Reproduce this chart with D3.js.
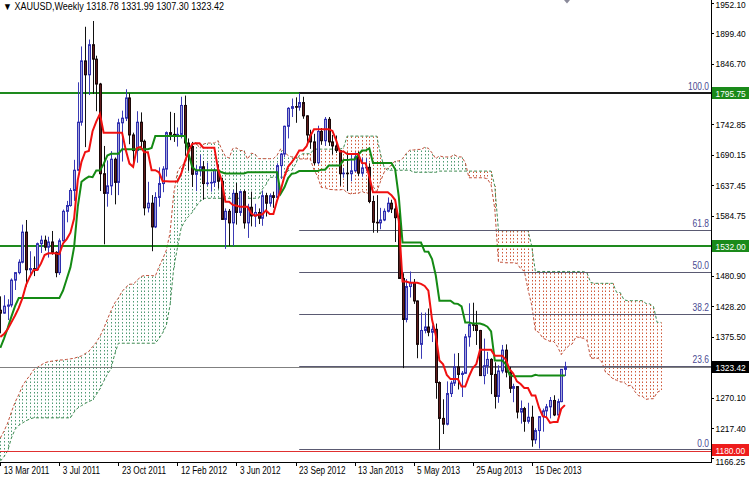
<!DOCTYPE html>
<html><head><meta charset="utf-8">
<script src="https://cdn.jsdelivr.net/npm/d3@7"></script>
<style>
body{margin:0;background:#fff}
svg{display:block}
text{font-family:"Liberation Sans",Arial,sans-serif}
</style>
</head><body>
<svg id="c" width="749" height="477"></svg>
<script>
// ---------------- DATA ----------------
const symbolTitle = "\u25BC XAUUSD,Weekly  1318.78 1331.99 1307.30 1323.42";

const open = [1421,1416,1428,1430,1473,1486,1504,1556,1491,1493, 1491,1536,1542,1530,1539,1521,1486,1541,1592,1602,
 1628,1663,1746,1852,1828,1880,1855,1812,1657,1623, 1636,1682,1642,1745,1753,1788,1724,1697,1746,1713,
 1598,1606,1565,1616,1640,1665,1728,1725,1722,1725, 1775,1710,1704,1656,1662,1669,1640,1641,1642,1663,
 1644,1578,1592,1572,1623,1590,1626,1572,1599,1584, 1590,1580,1619,1606,1619,1616,1671,1691,1739,1770,
 1773,1772,1780,1757,1724,1712,1676,1730,1714,1751, 1712,1705,1697,1657,1658,1657,1662,1686,1658,1667,
 1668,1609,1573,1572,1577,1592,1606,1596,1581,1476, 1405,1462,1469,1437,1362,1386,1392,1383,1388,1296,
 1234,1224,1277,1295,1323,1310,1312,1375,1396,1395, 1386,1308,1325,1336,1310,1272,1316,1352,1314,1286,
 1289,1245,1251,1229,1236,1197,1213,1237,1247,1254, 1265,1240,1263,1318.78];
const high = [1445,1447,1440,1476,1487,1509,1569,1577,1523,1514, 1538,1550,1550,1548,1558,1523,1545,1595,1610,1632,
 1681,1815,1877,1911,1889,1921,1861,1814,1705,1680, 1696,1685,1752,1766,1803,1796,1728,1765,1763,1716,
 1643,1620,1625,1668,1670,1730,1764,1762,1737,1790, 1792,1718,1712,1672,1690,1679,1676,1659,1667,1673,
 1650,1597,1596,1629,1641,1628,1629,1605,1626,1605, 1597,1628,1624,1623,1626,1675,1693,1740,1772,1787,
 1789,1796,1790,1758,1733,1726,1740,1736,1755,1755, 1724,1723,1698,1667,1694,1691,1694,1695,1685,1684,
 1675,1619,1620,1598,1597,1616,1612,1605,1589,1485, 1475,1488,1475,1438,1417,1417,1424,1395,1398,1298,
 1267,1298,1299,1346,1347,1316,1380,1433,1434,1420, 1387,1372,1349,1338,1331,1326,1361,1362,1323,1294,
 1290,1265,1254,1261,1256,1217,1238,1251,1259,1271, 1274,1268,1319,1331.99];
const low = [1381,1415,1404,1426,1456,1483,1502,1462,1478,1480, 1491,1520,1524,1512,1517,1478,1482,1540,1573,1600,
 1610,1662,1740,1703,1793,1795,1765,1627,1535,1600, 1620,1604,1620,1678,1748,1708,1670,1676,1702,1585,
 1590,1523,1563,1600,1625,1652,1715,1712,1704,1718, 1688,1662,1634,1627,1653,1612,1636,1626,1634,1631,
 1577,1527,1532,1532,1569,1584,1562,1546,1566,1565, 1570,1567,1583,1600,1598,1613,1648,1686,1718,1755,
 1745,1766,1752,1712,1700,1672,1673,1707,1705,1705, 1690,1693,1636,1650,1627,1644,1660,1653,1652,1662,
 1606,1555,1555,1561,1575,1590,1589,1539,1475,1321, 1400,1443,1432,1338,1337,1381,1376,1366,1268,1180,
 1207,1222,1271,1290,1284,1271,1311,1358,1385,1361, 1308,1293,1311,1276,1251,1261,1312,1305,1278,1262,
 1234,1225,1211,1225,1185,1190,1182,1211,1236,1234, 1238,1239,1262,1307.30];
const close = [1416,1428,1430,1473,1486,1504,1556,1491,1493,1491, 1536,1542,1530,1539,1521,1486,1541,1592,1602,1628,
 1663,1746,1852,1828,1880,1855,1812,1657,1623,1636, 1682,1642,1745,1753,1788,1724,1697,1746,1713,1598,
 1606,1565,1616,1640,1665,1728,1725,1722,1725,1775, 1710,1704,1656,1662,1669,1640,1641,1642,1663,1644,
 1578,1592,1572,1623,1590,1626,1572,1599,1584,1590, 1580,1619,1606,1619,1616,1671,1691,1739,1770,1773,
 1772,1780,1757,1724,1712,1676,1730,1714,1751,1712, 1705,1697,1657,1658,1657,1662,1686,1658,1667,1668,
 1609,1573,1572,1577,1592,1606,1596,1581,1476,1405, 1462,1469,1437,1362,1386,1392,1383,1388,1296,1234,
 1224,1277,1295,1323,1310,1312,1375,1396,1395,1386, 1308,1325,1336,1310,1272,1316,1352,1314,1286,1289,
 1245,1251,1229,1236,1197,1213,1237,1247,1254,1265, 1240,1263,1318.78,1323.42];

// Ichimoku lines (values per weekly bar)
const tenkan = [1375,1380,1388,1400,1412,1425,1442,1465,1479,1490.5, 1490.5,1501.5,1516.5,1519.5,1519.5,1519.5,1518,1536.5,1544,1555,
 1579.5,1646.5,1677.5,1694.5,1696.5,1730.5,1747,1760.5,1728,1728, 1728,1728,1728,1728,1698,1674.5,1669,1701.5,1703.5,1694,
 1694,1663,1663,1659.5,1644,1644,1643.5,1643.5,1643.5,1656.5, 1677.5,1696,1708.5,1709.5,1709.5,1702,1702,1702,1702,1665,
 1644.5,1608.5,1608.5,1603,1601.5,1600,1600,1600,1588.5,1584, 1586.5,1586.5,1593.5,1587.5,1587.5,1610.5,1629,1652.5,1669.5,1677,
 1686,1697,1697,1704.5,1722,1734,1734,1734,1734,1734, 1731,1715,1695.5,1695.5,1691,1691,1691,1691,1675.5,1675,
 1652,1625,1625,1625,1625,1625,1620,1611.5,1575,1470.5, 1470.5,1468.5,1468.5,1468.5,1466.5,1463,1455,1404.5,1378,1334,
 1327.5,1309,1302,1302,1302,1289,1289,1306.5,1320.5,1328, 1352.5,1352.5,1352.5,1352.5,1342.5,1342.5,1342.5,1335.5,1319,1311.5,
 1298,1293.5,1286.5,1286.5,1273.5,1273.5,1252.5,1238,1236,1226.5, 1228,1228,1250.5,1257];
const kijun = [1356,1372,1390,1410,1428,1442,1442,1442,1442,1442, 1442,1442,1442,1442,1442,1442,1442,1455,1475,1495,
 1530,1600,1643,1648,1652,1651,1662.5,1662.5,1673.5,1688.5, 1691.5,1691.5,1691.5,1699.5,1699.5,1699.5,1699.5,1699.5,1699.5,1699.5,
 1699.5,1701.5,1722,1722,1722,1722,1722,1722,1722,1722, 1722,1692,1668.5,1663,1663,1663,1663,1663,1663,1663,
 1659.5,1657.5,1657.5,1657.5,1657.5,1657.5,1657.5,1659.5,1659.5,1659.5, 1659.5,1659.5,1659.5,1659.5,1659.5,1659.5,1622.5,1633.5,1649.5,1657,
 1658,1661.5,1661.5,1661.5,1661.5,1661.5,1661.5,1664,1664,1671, 1671,1671,1671,1680.5,1680.5,1681.5,1681.5,1689.5,1697,1697,
 1701,1675.5,1675.5,1675.5,1675.5,1675.5,1675.5,1664.5,1616.5,1538, 1538,1538,1538,1538,1538,1522.5,1522,1509.5,1481.5,1437.5,
 1437.5,1437.5,1437.5,1432.5,1432,1427.5,1400,1400,1398,1398, 1398,1396,1392.5,1384.5,1334,1334,1334,1327.5,1309,1307,
 1307,1307,1307,1307,1307,1309.5,1308,1308,1308,1308, 1308,1308,1308,1308];
const spanA = [1200,1212,1226,1245,1262,1275,1290,1300,1308,1318, 1322,1326,1330,1332,1333,1334,1335,1335,1336,1337,
 1338,1340,1342,1346,1350,1358,1365.5,1376,1389,1405, 1420,1433.5,1442,1453.5,1460.5,1466,1466,1472,1479,1481,
 1481,1481,1480,1496,1509.5,1525,1555,1623,1660,1671, 1674,1691,1705,1711.5,1701,1708,1710,1710,1710,1714,
 1699,1687,1684,1700.5,1701.5,1697,1697,1682,1692.5,1691, 1683,1683,1683,1683,1683,1689,1700,1694,1688.5,1686,
 1686,1682.5,1682.5,1682.5,1682.5,1664,1652,1633,1633,1630, 1629.5,1629,1629,1630,1624,1622,1623,1623,1626.5,1623.5,
 1623.5,1635,1626,1643,1659.5,1667,1672,1679,1679,1683, 1692,1698,1698,1699,1699,1702.5,1701,1693,1683,1688,
 1686,1686,1686,1690,1686,1686,1676.5,1650,1650,1650, 1650,1650,1648,1638,1596,1504,1504,1503,1503,1503,
 1502,1493,1488.5,1457,1430,1386,1382.5,1373,1370,1367, 1367,1358,1344.5,1353,1359,1363,1375,1374,1372.5,1368.5,
 1338,1338,1338,1331.5,1314,1309,1302.5,1300,1297,1297, 1290,1291.5,1280,1273,1272,1267,1268,1268,1279,1282.5];
const spanB = [1160,1168,1178,1200,1215,1222,1226,1230,1233,1235, 1235,1235,1235,1235,1235,1235,1235,1235,1235,1235,
 1245,1252,1256,1260,1263,1266,1275,1285,1298,1310, 1320,1345,1364,1364,1364,1364,1364,1364,1364,1364,
 1364,1364,1364,1372,1382,1395,1430,1494,1529,1563, 1575,1583,1590,1600,1608,1614.5,1614.5,1614.5,1614.5,1614.5,
 1614.5,1614.5,1614.5,1614.5,1614.5,1614.5,1614.5,1614.5,1614.5,1614.5, 1614.5,1630.5,1638,1650.5,1651,1651,1651,1651,1662.5,1662.5,
 1673.5,1688.5,1691.5,1691.5,1691.5,1699.5,1699.5,1699.5,1699.5,1699.5, 1699.5,1699.5,1699.5,1701.5,1722,1722,1722,1722,1722,1722,
 1722,1722,1722,1692,1668.5,1663,1663,1663,1663,1663, 1663,1663,1659.5,1659.5,1659.5,1659.5,1659.5,1659.5,1659.5,1661.5,
 1661.5,1661.5,1661.5,1661.5,1661.5,1661.5,1661.5,1661.5,1661.5,1661.5, 1661.5,1661.5,1661.5,1661.5,1635.5,1558.5,1558.5,1558.5,1558.5,1558.5,
 1558.5,1558.5,1558.5,1558.5,1532,1488,1488,1488,1488,1488, 1488,1488,1488,1488,1488,1488,1488,1488,1488,1485,
 1469,1467.5,1467.5,1467.5,1467.5,1467.5,1467.5,1452,1451.5,1439, 1437.5,1437.5,1437.5,1437.5,1437.5,1432.5,1432,1427.5,1400,1400];

// Horizontal levels
const levelPrices = [1795.75, 1532.00];
const supportPrice = 1180.00;
const currentPrice = 1323.42;
const fibStartBar = 81;
const fibPrices = [1795.75, 1560.48, 1487.88, 1415.28, 1325.32, 1180.00];
const fibLabels = ["100.0", "61.8", "50.0", "38.2", "23.6", "0.0"];

// Axis labels
const priceTicks = [1952.10, 1899.40, 1846.70, 1742.85, 1690.15, 1637.45, 1584.75, 1480.90, 1428.20, 1375.50, 1270.10, 1217.40, 1166.25];
const dateLabels = ["13 Mar 2011","3 Jul 2011","23 Oct 2011","12 Feb 2012","3 Jun 2012","23 Sep 2012","13 Jan 2013","5 May 2013","25 Aug 2013","15 Dec 2013"];
const dateLabelBars = [0,16,32,48,64,80,96,112,128,144];

// ---------------- DRAW ----------------
const W = 749, H = 477, plotR = 711, plotB = 462;
const svg = d3.select("#c");
const x = d3.scaleLinear().domain([0, 153]).range([0.3, 564.9]);
const y = d3.scaleLinear().domain([1952.10, 1166.25]).range([3, 457.6]);
const px = i => Math.round(x(i)) + 0.5;
const crisp = v => Math.round(v) + 0.5;
// condense text horizontally (Tahoma-like narrow look)
function squeeze(sel, f) {
  sel.each(function() {
    const L = this.getComputedTextLength();
    d3.select(this).attr("textLength", (L * f).toFixed(1)).attr("lengthAdjust", "spacingAndGlyphs");
  });
}

svg.append("defs").append("clipPath").attr("id","clip")
  .append("rect").attr("x",0).attr("y",0).attr("width",plotR).attr("height",plotB);
const g = svg.append("g").attr("clip-path","url(#clip)");

// cloud (dotted vertical hatching)
const cloudIdx = d3.range(spanA.length);
g.append("g").selectAll("line").data(cloudIdx).join("line")
  .attr("x1", i => px(i)).attr("x2", i => px(i))
  .attr("y1", i => Math.min(y(spanA[i]), y(spanB[i])))
  .attr("y2", i => Math.max(y(spanA[i]), y(spanB[i])))
  .attr("stroke", i => spanA[i] >= spanB[i] ? "#4e9a72" : "#cf5a3a")
  .attr("stroke-width", 1)
  .attr("stroke-dasharray", "1.5,2")
  .attr("stroke-dashoffset", i => (Math.min(y(spanA[i]), y(spanB[i])) % 3.5));

const lineGen = arr => d3.line().x((d,i) => x(i)).y(d => y(d))(arr);
g.append("path").attr("d", lineGen(spanA)).attr("fill","none")
  .attr("stroke","#c0503a").attr("stroke-width",1).attr("stroke-dasharray","3,2");
g.append("path").attr("d", lineGen(spanB)).attr("fill","none")
  .attr("stroke","#3d8a50").attr("stroke-width",1).attr("stroke-dasharray","3,2");

// horizontal lines
g.append("line").attr("x1",0).attr("x2",plotR)
  .attr("y1", crisp(y(currentPrice))).attr("y2", crisp(y(currentPrice)))
  .attr("stroke","#808080").attr("stroke-width",1);
g.append("line").attr("x1",0).attr("x2",plotR)
  .attr("y1", crisp(y(supportPrice))+1).attr("y2", crisp(y(supportPrice))+1)
  .attr("stroke","#e03030").attr("stroke-width",1);
g.selectAll("line.lvl").data(levelPrices).join("line").attr("class","lvl")
  .attr("x1",0).attr("x2",plotR)
  .attr("y1", d => Math.round(y(d))).attr("y2", d => Math.round(y(d)))
  .attr("stroke","#1e8a1e").attr("stroke-width",2);
// fibonacci
g.selectAll("line.fib").data(fibPrices).join("line").attr("class","fib")
  .attr("x1", x(fibStartBar)).attr("x2", plotR)
  .attr("y1", (d,i) => i === 0 ? Math.round(y(d)) : crisp(y(d)) - (i===5?1:0))
  .attr("y2", (d,i) => i === 0 ? Math.round(y(d)) : crisp(y(d)) - (i===5?1:0))
  .attr("stroke", (d,i) => i === 0 ? "#1a1a1a" : "#5a5a72")
  .attr("stroke-width", (d,i) => i === 0 ? 2 : 1);

// candles
const idx = d3.range(open.length);
const cg = g.append("g");
cg.selectAll("line").data(idx).join("line")
  .attr("x1", i => px(i)).attr("x2", i => px(i))
  .attr("y1", i => y(high[i])).attr("y2", i => y(low[i]))
  .attr("stroke", i => close[i] >= open[i] ? "#3b3bb5" : "#111")
  .attr("stroke-width", 1);
cg.selectAll("rect").data(idx).join("rect")
  .attr("x", i => Math.round(x(i)) - 0.5)
  .attr("width", 2)
  .attr("y", i => y(Math.max(open[i], close[i])))
  .attr("height", i => Math.max(0.6, y(Math.min(open[i], close[i])) - y(Math.max(open[i], close[i]))))
  .attr("fill", i => close[i] >= open[i] ? "#a4a4d8" : "#5e1c1c")
  .attr("stroke", i => close[i] >= open[i] ? "#2f2fb0" : "#1a0808")
  .attr("stroke-width", 1);

// tenkan / kijun
g.append("path").attr("d", lineGen(kijun)).attr("fill","none")
  .attr("stroke","#148a14").attr("stroke-width",2);
g.append("path").attr("d", lineGen(tenkan)).attr("fill","none")
  .attr("stroke","#f01010").attr("stroke-width",2);

// fib labels
svg.selectAll("text.fibl").data(fibPrices).join("text").attr("class","fibl")
  .attr("x", 709).attr("y", d => y(d) - 3)
  .attr("text-anchor","end").attr("font-size",10).attr("fill","#4a4a92")
  .text((d,i) => fibLabels[i])
  .call(squeeze, 0.84);

// right axis
svg.append("line").attr("x1",plotR+0.5).attr("x2",plotR+0.5).attr("y1",0).attr("y2",plotB)
  .attr("stroke","#000").attr("stroke-width",1);
const ra = svg.append("g");
ra.selectAll("line").data(priceTicks).join("line")
  .attr("x1", plotR).attr("x2", plotR+3)
  .attr("y1", d => crisp(y(d))).attr("y2", d => crisp(y(d)))
  .attr("stroke","#000");
ra.selectAll("text").data(priceTicks).join("text")
  .attr("x", plotR+4.5).attr("y", d => d > 1950 ? 8 : y(d) + (d < 1170 ? 7 : 3.5))
  .attr("font-size",9.5).attr("fill","#000")
  .text(d => d.toFixed(2))
  .call(squeeze, 0.88);

// price boxes
const boxPrices = [levelPrices[0], levelPrices[1], currentPrice, supportPrice];
const boxFill = ["#1a8a1a", "#1a8a1a", "#000000", "#ee1c1c"];
const bg = svg.append("g");
boxPrices.forEach((p, k) => {
  const cy = Math.round(y(p));
  bg.append("rect").attr("x", plotR+1).attr("y", cy - 6).attr("width", W - plotR - 1).attr("height", 12)
    .attr("fill", boxFill[k]);
  bg.append("text").attr("x", plotR+4.5).attr("y", cy + 4)
    .attr("font-size",9.5).attr("fill","#fff").text(p.toFixed(2))
    .call(squeeze, 0.88);
});

// bottom axis
svg.append("line").attr("x1",0).attr("x2",plotR+1).attr("y1",plotB+0.5).attr("y2",plotB+0.5)
  .attr("stroke","#000");
const ba = svg.append("g");
ba.selectAll("line").data(dateLabelBars).join("line")
  .attr("x1", b => px(b)).attr("x2", b => px(b))
  .attr("y1", plotB).attr("y2", plotB+4).attr("stroke","#000");
ba.selectAll("text").data(dateLabelBars).join("text")
  .attr("x", b => Math.max(2, x(b) + 3.5)).attr("y", 474)
  .attr("font-size",10).attr("fill","#000")
  .text((b,i) => dateLabels[i])
  .call(squeeze, 0.82);

// title
svg.append("text").attr("x",3).attr("y",10).attr("font-size",10).attr("fill","#000")
  .text(symbolTitle)
  .call(squeeze, 0.9);
// shift marker
svg.append("path").attr("d","M564,0 L570,0 L567,3.5 Z").attr("fill","#8a8a9a");
</script>
</body></html>
